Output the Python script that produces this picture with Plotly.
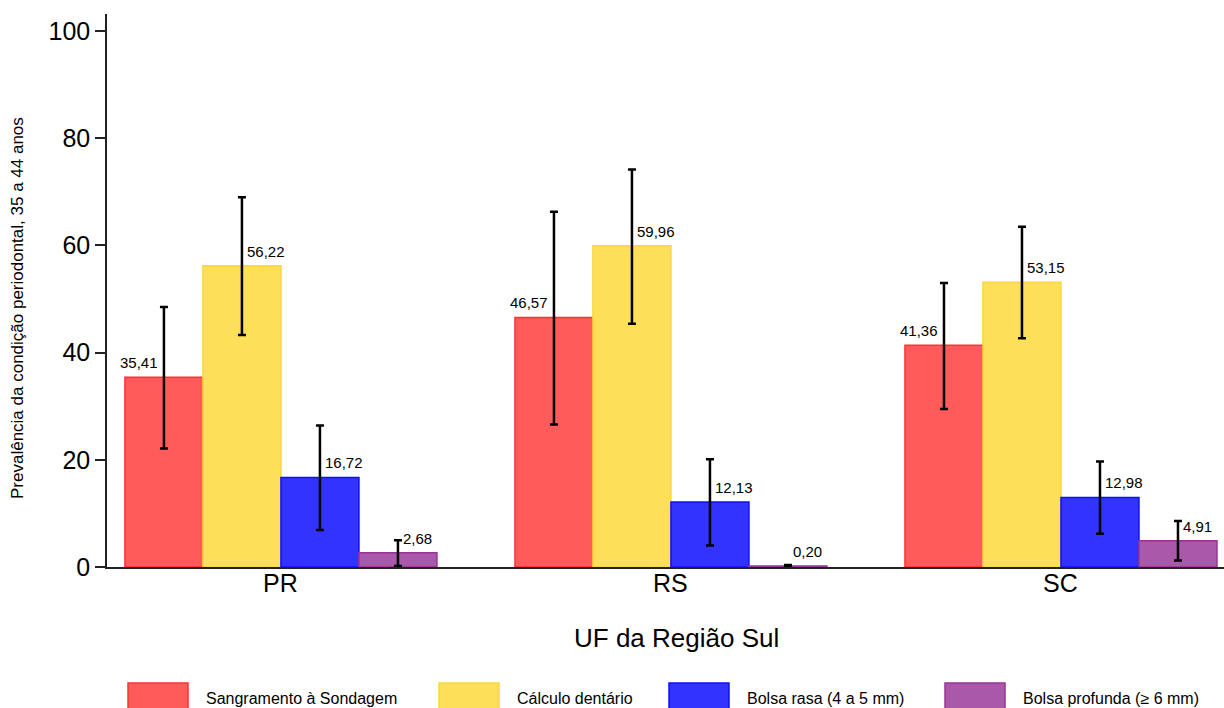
import plotly.graph_objects as go

# ---- data ----
categories = ["PR", "RS", "SC"]
series_names = ["Sangramento à Sondagem", "Cálculo dentário", "Bolsa rasa (4 a 5 mm)", "Bolsa profunda (≥ 6 mm)"]

sangramento = [35.41, 46.57, 41.36]
sangramento_low = [22.1, 26.6, 29.5]
sangramento_high = [48.5, 66.3, 53.0]

calculo = [56.22, 59.96, 53.15]
calculo_low = [43.3, 45.4, 42.7]
calculo_high = [69.0, 74.2, 63.5]

bolsa_rasa = [16.72, 12.13, 12.98]
bolsa_rasa_low = [6.9, 4.0, 6.2]
bolsa_rasa_high = [26.4, 20.1, 19.7]

bolsa_profunda = [2.68, 0.20, 4.91]
bolsa_profunda_low = [0.2, 0.05, 1.2]
bolsa_profunda_high = [5.0, 0.35, 8.6]

y_ticks = [0, 20, 40, 60, 80, 100]

# ---- styles ----
fills = ["#FF5B5B", "#FDDF5A", "#3333FF", "#AA59AA"]
borders = ["#FF3333", "#FCD63E", "#1010FF", "#993399"]
FONT = "Liberation Sans, Arial, Helvetica, sans-serif"

W, H = 1224, 708
L, R, T, B = 107, 0, 14, 141
plot_w = W - L - R
plot_h = H - T - B


def px2x(px):
    return (px - L) / plot_w


def py2y(py):
    return (H - B - py) / plot_h


values = [sangramento, calculo, bolsa_rasa, bolsa_profunda]
lows = [sangramento_low, calculo_low, bolsa_rasa_low, bolsa_profunda_low]
highs = [sangramento_high, calculo_high, bolsa_rasa_high, bolsa_profunda_high]

fig = go.Figure()
for k in range(4):
    v = values[k]
    fig.add_trace(go.Bar(
        x=categories, y=v, name=series_names[k],
        marker=dict(color=fills[k], line=dict(color=borders[k], width=1.5)),
        error_y=dict(type="data", symmetric=False,
                     array=[h - a for h, a in zip(highs[k], v)],
                     arrayminus=[a - l for l, a in zip(lows[k], v)],
                     color="black", thickness=2.5, width=4),
        showlegend=False,
    ))

# value labels
n = 4
group_w = 0.8
bar_w = group_w / n
annotations = []
for k in range(n):
    off = -group_w / 2 + bar_w * (k + 0.5)
    for i, v in enumerate(values[k]):
        txt = f"{v:.2f}".replace(".", ",")
        if k == 0:
            anchor, shift = "right", -4
        else:
            anchor, shift = "left", 3
        annotations.append(dict(
            x=i + off, y=v, xref="x", yref="y", text=txt, showarrow=False,
            xanchor=anchor, yanchor="bottom", xshift=shift, yshift=4,
            font=dict(size=15, color="black", family=FONT)))

# category labels
for i, c in enumerate(categories):
    annotations.append(dict(
        x=i, y=py2y(583), xref="x", yref="paper", text=c, showarrow=False,
        xanchor="center", yanchor="middle",
        font=dict(size=25, color="black", family=FONT)))

# axis titles
annotations.append(dict(
    x=px2x(676), y=py2y(638), xref="paper", yref="paper",
    text="UF da Região Sul", showarrow=False, xanchor="center", yanchor="middle",
    font=dict(size=26, color="black", family=FONT)))
annotations.append(dict(
    x=px2x(18), y=py2y(308), xref="paper", yref="paper",
    text="Prevalência da condição periodontal, 35 a 44 anos", showarrow=False,
    textangle=-90, xanchor="center", yanchor="middle",
    font=dict(size=17, color="black", family=FONT)))

# custom legend (large swatches)
shapes = []
legend_swatch_left = [128, 439, 669, 945]
for k in range(n):
    x0 = legend_swatch_left[k]
    shapes.append(dict(type="rect", xref="paper", yref="paper",
                       x0=px2x(x0), x1=px2x(x0 + 60), y0=py2y(683), y1=py2y(712),
                       fillcolor=fills[k], line=dict(color=borders[k], width=1.5)))
    annotations.append(dict(
        x=px2x(x0 + 76), y=py2y(698), xref="paper", yref="paper",
        text=series_names[k], showarrow=False, xanchor="left", yanchor="middle",
        font=dict(size=16, color="black", family=FONT)))

fig.update_layout(
    width=W, height=H,
    margin=dict(l=L, r=R, t=T, b=B, pad=0),
    barmode="group", bargap=0.2, bargroupgap=0,
    plot_bgcolor="white", paper_bgcolor="white",
    font=dict(family=FONT, color="black"),
    annotations=annotations, shapes=shapes,
    xaxis=dict(
        type="category", range=[-0.446, 2.418],
        showline=True, linecolor="#222", linewidth=1.5,
        ticks="", showgrid=False, zeroline=False, showticklabels=False,
    ),
    yaxis=dict(
        range=[0, 103.2], tickvals=y_ticks,
        showline=True, linecolor="#222", linewidth=1.5,
        ticks="outside", ticklen=10, tickwidth=1.5, tickcolor="#222",
        showgrid=False, zeroline=False,
        tickfont=dict(size=25, family=FONT, color="black"),
    ),
)

fig.write_html(
    "out.html",
    config={"displayModeBar": False},
    post_script="document.body.style.margin='0';document.body.style.overflow='hidden';",
)
